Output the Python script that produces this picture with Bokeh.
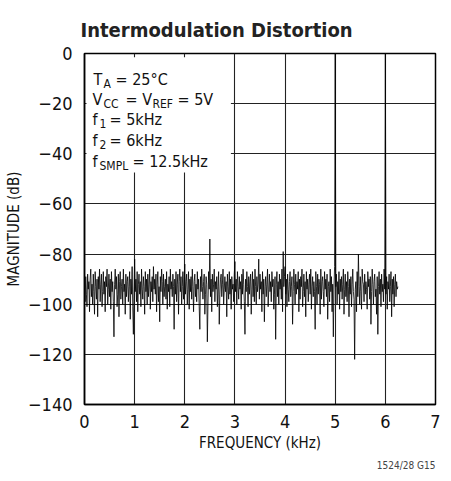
import numpy as np
from bokeh.plotting import figure
from bokeh.models import Label, BoxAnnotation, FixedTicker, Range1d, Title
from bokeh.embed import file_html
from bokeh.resources import INLINE

FONT = "Liberation Sans Narrow, DejaVu Sans Condensed, sans-serif"

title = "Intermodulation Distortion"
x_label = "FREQUENCY (kHz)"
y_label = "MAGNITUDE (dB)"
footnote = "1524/28 G15"

x_ticks = [0, 1, 2, 3, 4, 5, 6, 7]
y_ticks = [0, -20, -40, -60, -80, -100, -120, -140]
y_tick_labels = ["0", "\u221220", "\u221240", "\u221260", "\u221280", "\u2212100", "\u2212120", "\u2212140"]

# FFT magnitude (dB), one bin every 0.0125 kHz from 0 to 6.25 kHz
mag_0k = [-93, -99, -89, -96, -101, -88, -94, -91, -103, -90,
          -86, -97, -92, -100, -88, -95, -104, -87, -93, -98,
          -90, -105, -89, -94, -86, -99, -92, -88, -101, -95,
          -87, -96, -91, -103, -89, -93, -86, -100, -94, -88,
          -97, -90, -102, -87, -95, -91, -99, -113, -92, -86,
          -94, -89, -101, -96, -88, -105, -91, -87, -98, -93,
          -90, -100, -86, -95, -92, -104, -88, -97, -91, -89,
          -99, -93, -87, -106, -90, -96, -85, -101, -112, -94]
mag_1k = [-82, -95, -90, -99, -87, -103, -92, -88, -96, -91,
          -101, -86, -94, -98, -89, -93, -104, -87, -95, -90,
          -100, -88, -97, -92, -86, -102, -91, -95, -89, -99,
          -85, -94, -90, -96, -88, -103, -92, -87, -99, -93,
          -107, -89, -95, -86, -91, -100, -88, -97, -93, -90,
          -98, -87, -102, -92, -95, -89, -101, -86, -94, -91,
          -97, -88, -93, -110, -90, -96, -87, -99, -92, -88,
          -104, -91, -86, -95, -89, -100, -93, -87, -98, -90]
mag_2k = [-84, -96, -91, -88, -100, -94, -87, -102, -90, -95,
          -89, -98, -86, -93, -103, -91, -88, -97, -92, -99,
          -87, -94, -90, -101, -110, -89, -95, -86, -93, -98,
          -91, -88, -104, -96, -89, -92, -115, -100, -87, -94,
          -74, -97, -90, -103, -88, -95, -92, -86, -99, -91,
          -94, -89, -101, -93, -87, -108, -96, -90, -88, -97,
          -92, -86, -100, -94, -89, -95, -91, -105, -88, -93,
          -98, -87, -96, -90, -102, -89, -94, -92, -99, -88]
mag_3k = [-83, -95, -90, -100, -87, -93, -98, -89, -94, -91,
          -102, -88, -96, -86, -92, -99, -112, -90, -95, -87,
          -93, -101, -89, -96, -91, -88, -104, -94, -87, -97,
          -90, -99, -86, -93, -100, -89, -95, -92, -82, -98,
          -88, -94, -91, -103, -87, -96, -90, -107, -93, -89,
          -97, -92, -86, -101, -94, -88, -95, -91, -99, -87,
          -93, -90, -102, -96, -89, -114, -92, -87, -97, -91,
          -100, -88, -94, -90, -98, -86, -103, -79, -93, -89]
mag_4k = [-85, -96, -90, -101, -88, -94, -99, -91, -87, -97,
          -93, -89, -108, -95, -86, -92, -100, -88, -96, -91,
          -94, -87, -103, -90, -98, -89, -93, -86, -101, -95,
          -88, -97, -91, -105, -87, -94, -90, -99, -92, -88,
          -96, -86, -102, -93, -89, -97, -91, -95, -110, -87,
          -93, -100, -88, -96, -90, -92, -104, -86, -98, -91,
          -89, -95, -101, -87, -94, -90, -97, -88, -106, -93,
          -91, -99, -86, -95, -89, -103, -92, -113, -94, -85]
mag_5k = [0, -93, -88, -100, -91, -96, -87, -102, -90, -95,
          -89, -98, -92, -86, -104, -94, -88, -97, -91, -99,
          -87, -93, -105, -90, -96, -89, -101, -92, -86, -95,
          -98, -122, -94, -91, -103, -87, -97, -80, -93, -100,
          -89, -95, -102, -86, -91, -92, -99, -88, -96, -91,
          -94, -102, -87, -93, -90, -98, -89, -108, -95, -86,
          -92, -100, -91, -88, -97, -94, -104, -89, -112, -93,
          -87, -96, -90, -101, -88, -95, -92, -99, -86, -94]
mag_6k = [0, -96, -89, -102, -91, -94, -88, -99, -93, -87,
          -105, -90, -96, -89, -101, -92, -88, -97, -91, -94, -93]

magnitude = mag_0k + mag_1k + mag_2k + mag_3k + mag_4k + mag_5k + mag_6k
freq = np.linspace(0.0, 6.25, len(magnitude))

p = figure(frame_width=351, frame_height=351,
           min_border_left=84, min_border_right=8, min_border_top=53, min_border_bottom=72,
           x_range=Range1d(0, 7), y_range=Range1d(-140, 0),
           output_backend="svg", toolbar_location=None)

p.title.text = title
p.title.text_font = FONT
p.title.text_font_size = "20px"
p.title.text_font_style = "bold"
p.title.text_color = "#222222"
p.title.align = "left"
p.title.offset = -4
p.title.vertical_align = "top"
p.title.standoff = 20

p.add_layout(Title(text=footnote, align="right", text_font=FONT, text_font_size="10px",
                   text_font_style="normal", text_color="#444444", standoff=6), "below")

p.outline_line_color = "black"
p.outline_line_width = 1.5
p.background_fill_color = "white"
p.border_fill_color = "white"

p.xaxis.ticker = FixedTicker(ticks=x_ticks)
p.yaxis.ticker = FixedTicker(ticks=y_ticks)
p.yaxis.major_label_overrides = {t: l for t, l in zip(y_ticks, y_tick_labels)}
for ax in (p.xaxis[0], p.yaxis[0]):
    ax.axis_line_color = "black"
    ax.axis_line_width = 1.5
    ax.major_tick_in = 0
    ax.major_tick_out = 0
    ax.minor_tick_in = 0
    ax.minor_tick_out = 0
    ax.major_label_text_font = FONT
    ax.major_label_text_font_size = "18px"
    ax.major_label_text_color = "#111111"
    ax.axis_label_text_font = FONT
    ax.axis_label_text_font_size = "15px"
    ax.axis_label_text_font_style = "normal"
    ax.axis_label_text_color = "#111111"
p.xaxis.axis_label = x_label
p.yaxis.axis_label = y_label
p.xaxis.major_label_standoff = 10
p.yaxis.major_label_standoff = 12
p.xaxis.axis_label_standoff = 3
p.yaxis.axis_label_standoff = 2

p.xgrid.ticker = FixedTicker(ticks=x_ticks[1:-1])
p.ygrid.ticker = FixedTicker(ticks=y_ticks[1:-1])
p.grid.grid_line_color = "#222222"
p.grid.grid_line_width = 1.1

p.line(freq, magnitude, line_color="black", line_width=0.9, line_alpha=0.9)

# white box behind the conditions text
p.add_layout(BoxAnnotation(left=0.04, right=2.92, top=-1.5, bottom=-47.5,
                           fill_color="white", fill_alpha=1.0, line_alpha=0))

def piece(text, dx, dy, sub=False):
    p.add_layout(Label(x=0, y=0, x_offset=dx, y_offset=-(dy + (4 if sub else 0)),
                       text=text, text_font=FONT,
                       text_font_size=("12px" if sub else "16px"),
                       text_color="#111111", text_baseline="alphabetic",
                       text_align="left"))

piece("T", 9, 26); piece("A", 19, 26, sub=True); piece("= 25\u00b0C", 31, 26)
piece("V", 8, 46); piece("CC", 19, 46, sub=True); piece("= V", 41, 46)
piece("REF", 68, 46, sub=True); piece("= 5V", 93, 46)
piece("f", 8, 66); piece("1", 15, 66, sub=True); piece("= 5kHz", 25, 66)
piece("f", 8, 87); piece("2", 15, 87, sub=True); piece("= 6kHz", 25, 87)
piece("f", 8, 108); piece("SMPL", 15, 108, sub=True); piece("= 12.5kHz", 48, 108)

open("out.html", "w").write(file_html(p, INLINE))
